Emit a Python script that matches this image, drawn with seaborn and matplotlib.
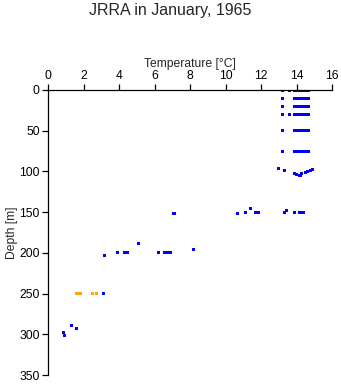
import matplotlib
matplotlib.use("Agg")
import matplotlib.pyplot as plt
import seaborn as sns
import pandas as pd

# Temperature [°C] and depth [m] readings, with quality flag
temps_upper = [13.2, 13.6, 13.9, 14.0, 14.1, 14.25, 14.35, 14.45, 14.55, 14.7]
depths_upper = [0, 10, 20, 30, 50, 75]

temps_100 = [13.0, 13.3, 13.9, 14.0, 14.2, 14.3, 14.5, 14.6, 14.8, 14.9]
depths_100 = [96, 99, 103, 104, 105, 103, 101, 100, 99, 98]

temps_150 = [7.1, 10.7, 11.15, 11.4, 11.7, 11.85, 13.3, 13.45, 13.9, 14.2, 14.4]
depths_150 = [152, 152, 150, 146, 150, 150, 150, 148, 150, 150, 150]

temps_200 = [3.2, 3.9, 4.3, 4.5, 5.1, 6.25, 6.55, 6.75, 6.9, 8.2]
depths_200 = [203, 200, 200, 200, 189, 200, 200, 200, 200, 196]

temps_250 = [1.6, 1.8, 2.5, 2.75, 3.15]
depths_250 = [250, 250, 250, 250, 250]
flags_250 = ["bad", "bad", "bad", "bad", "good"]

temps_300 = [0.85, 0.95, 1.3, 1.6]
depths_300 = [298, 302, 289, 293]

x_ticks = [0, 2, 4, 6, 8, 10, 12, 14, 16]
y_ticks = [0, 50, 100, 150, 200, 250, 300, 350]

rows = []
for d in depths_upper:
    for t in temps_upper:
        if d in (0, 30) or t != 13.6:
            rows.append((t, d, "good"))
for t, d in zip(temps_100, depths_100):
    rows.append((t, d, "good"))
for t, d in zip(temps_150, depths_150):
    rows.append((t, d, "good"))
for t, d in zip(temps_200, depths_200):
    rows.append((t, d, "good"))
for t, d, f in zip(temps_250, depths_250, flags_250):
    rows.append((t, d, f))
for t, d in zip(temps_300, depths_300):
    rows.append((t, d, "good"))
df = pd.DataFrame(rows, columns=["temp", "depth", "flag"])

sns.set_style("ticks")
plt.rcParams["font.family"] = ["Liberation Sans", "DejaVu Sans"]

fig = plt.figure(figsize=(3.41, 3.84), dpi=100)
ax = fig.add_axes([48 / 341, 1 - 375 / 384, 284 / 341, 285 / 384])

sns.scatterplot(data=df, x="temp", y="depth", hue="flag",
                palette={"good": "#0000ff", "bad": "#ffa500"},
                marker="s", s=5, linewidth=0, legend=False, ax=ax)

ax.set_xlim(0, 16)
ax.set_ylim(350, 0)
ax.set_xticks(x_ticks)
ax.set_yticks(y_ticks)
ax.xaxis.tick_top()
ax.xaxis.set_label_position("top")
ax.set_xlabel("Temperature [°C]", fontsize=8.7, labelpad=2)
ax.set_ylabel("Depth [m]", fontsize=8.7, labelpad=1)
ax.tick_params(axis="both", labelsize=8.7, length=4, width=0.9,
               color="black", labelcolor="black", pad=2)
for side in ["right", "bottom"]:
    ax.spines[side].set_visible(False)
for side in ["left", "top"]:
    ax.spines[side].set_linewidth(0.9)
    ax.spines[side].set_color("black")

fig.text(0.5, 1 - 11 / 384, "JRRA in January, 1965", ha="center", va="center",
         fontsize=11.5)

fig.savefig("out.png", dpi=100)
